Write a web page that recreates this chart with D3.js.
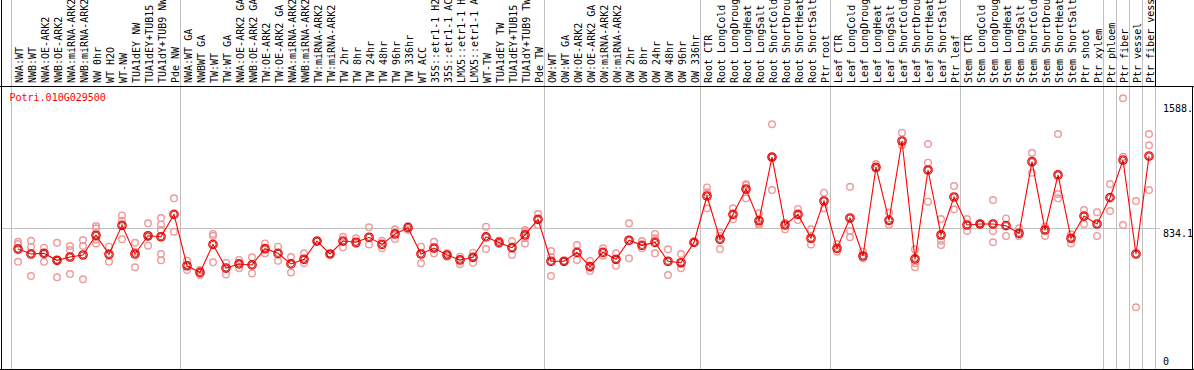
<!DOCTYPE html>
<html>
<head>
<meta charset="utf-8">
<script src="https://cdn.jsdelivr.net/npm/d3@7"></script>
<style>
  body { margin: 0; background: #fff; }
  svg { display: block; }
  text { font-family: "DejaVu Sans Mono", monospace; font-size: 10px; }
</style>
</head>
<body>
<svg id="chart" width="1194" height="370"></svg>
<script>
var geneName = "Potri.010G029500";

var sampleLabels = [
  "NWA:WT", "NWB:WT", "NWA:OE-ARK2", "NWB:OE-ARK2", "NWA:miRNA-ARK2", "NWB:miRNA-ARK2", "NW 0hr", "WT H2O", "WT-NW",
  "TUA1dEY NW", "TUA1dEY+TUB15", "TUA1dY+TUB9 NW", "Pde NW",
  "NWA:WT GA", "NWBWT GA", "TW:WT", "TW:WT GA", "NWA:OE-ARK2 GA", "NWB:OE-ARK2 GA", "TW:OE-ARK2", "TW:OE-ARK2 GA",
  "NWA:miRNA-ARK2", "NWB:miRNA-ARK2", "TW:miRNA-ARK2", "TW:miRNA-ARK2", "TW 2hr", "TW 8hr", "TW 24hr", "TW 48hr",
  "TW 96hr", "TW 336hr", "WT ACC", "35S::etr1-1 H2", "35S::etr1-1 AC", "LMX5::etr1-1 H", "LMX5::etr1-1 A", "WT-TW",
  "TUA1dEY TW", "TUA1dEY+TUB15", "TUA1dY+TUB9 TW", "Pde TW",
  "OW:WT", "OW:WT GA", "OW:OE-ARK2", "OW:OE-ARK2 GA", "OW:miRNA-ARK2", "OW:miRNA-ARK2", "OW 2hr", "OW 8hr",
  "OW 24hr", "OW 48hr", "OW 96hr", "OW 336hr",
  "Root CTR", "Root LongCold", "Root LongDroug", "Root LongHeat", "Root LongSalt", "Root ShortCold", "Root ShortDrou",
  "Root ShortHeat", "Root ShortSalt", "Ptr root",
  "Leaf CTR", "Leaf LongCold", "Leaf LongDroug", "Leaf LongHeat", "Leaf LongSalt", "Leaf ShortCold", "Leaf ShortDrou",
  "Leaf ShortHeat", "Leaf ShortSalt", "Ptr leaf",
  "Stem CTR", "Stem LongCold", "Stem LongDroug", "Stem LongHeat", "Stem LongSalt", "Stem ShortCold", "Stem ShortDrou",
  "Stem ShortHeat", "Stem ShortSalt", "Ptr shoot", "Ptr xylem",
  "Ptr phloem", "Ptr fiber", "Ptr vessel", "Ptr fiber vess"
];

// how many samples in each block between grey separators
var groupSizes = [13, 28, 12, 10, 10, 11, 1, 1, 1, 1];

var meanValues = [
  706, 676, 680, 638, 658, 670, 789, 674, 849, 676, 786, 780, 915,
  605, 565, 734, 591, 616, 610, 708, 680, 616, 644, 754, 676, 754, 747, 777, 734, 797,
  835, 676, 712, 670, 640, 656, 779, 746, 714, 791, 885,
  632, 632, 686, 600, 686, 644, 759, 728, 746, 632, 623, 746,
  1026, 765, 915, 1068, 877, 1261, 851, 915, 771, 996,
  710, 893, 664, 1199, 879, 1358, 646, 1183, 791, 1020,
  851, 857, 857, 847, 801, 1233, 821, 1153, 771, 905, 857,
  1016, 1243, 676, 1267
];

var replicateValues = [
  [750, 736, 629], [756, 720, 543], [714, 680, 629], [744, 638, 535], [724, 700, 555], [760, 724, 523],
  [845, 831, 764, 740], [720, 629], [909, 877, 765], [744, 596, 688], [861, 780, 726],
  [893, 853, 821, 676, 638], [1012, 811],
  [635, 579], [579, 549], [797, 786, 626], [623, 553], [640, 590], [656, 559], [740, 680], [720, 635],
  [658, 565], [680, 620], [754], [676], [780, 716], [771, 736], [837, 734], [756, 710], [825, 766],
  [845, 821], [720, 620], [750, 680], [680, 660], [660, 614], [684, 623], [841, 706], [756, 736],
  [754, 672], [821, 810, 771, 740], [917, 851],
  [694, 660, 543], [632], [730, 640], [634, 573], [710, 666], [680, 605], [861, 650], [754, 710],
  [797, 771, 680], [704, 549], [676, 590], [746],
  [1078, 1048, 952], [804, 785, 706], [952, 885], [1097, 1092, 1012], [922, 858, 851], [1459, 1262, 1062],
  [865, 825], [948, 881], [825, 734], [1046, 952],
  [736, 690], [1082, 815, 777], [690, 650], [1219, 1193], [926, 853], [1408, 1334], [704, 620, 596],
  [1340, 1227, 992], [887, 756, 730], [1086, 946],
  [887, 815], [860, 854], [1002, 815, 747], [891, 785], [831, 785], [1287, 1167], [841, 785],
  [1400, 1038, 1012], [795, 740], [941, 857], [928, 785],
  [1098, 935], [1616, 1263, 851], [996, 354], [1400, 1332, 1062]
];

var tickValues = [0, 834.1, 1588];
var tickLabels = ["0", "834.1", "1588."];
var refLineValue = 834.1;

var svg = d3.select("#chart");
var plotTop = 86, plotBottom = 369, plotLeft = 1, plotRight = 1192;

var x = d3.scaleBand()
  .domain(d3.range(sampleLabels.length))
  .range([11.5, 11.5 + 13 * sampleLabels.length]);
var y = d3.scaleLinear().domain([0, 1690]).range([366, plotTop]);
var cx = function(i) { return x(i) + x.bandwidth() / 2; };

// group separators
var bounds = [0];
groupSizes.forEach(function(s) { bounds.push(bounds[bounds.length - 1] + s); });
svg.append("g").selectAll("line").data(bounds).enter().append("line")
  .attr("x1", function(b) { return b < sampleLabels.length ? x(b) : x.range()[1]; })
  .attr("x2", function(b) { return b < sampleLabels.length ? x(b) : x.range()[1]; })
  .attr("y1", 0).attr("y2", plotBottom)
  .attr("stroke", "#c0c0c0").attr("shape-rendering", "crispEdges");

// reference line
svg.append("line")
  .attr("x1", plotLeft).attr("x2", 1160)
  .attr("y1", Math.round(y(refLineValue)) + 0.5).attr("y2", Math.round(y(refLineValue)) + 0.5)
  .attr("stroke", "#c0c0c0").attr("shape-rendering", "crispEdges");

// frame
var frame = svg.append("g").attr("stroke", "#000").attr("shape-rendering", "crispEdges");
frame.append("line").attr("x1", 0).attr("x2", 1194).attr("y1", plotTop + 0.5).attr("y2", plotTop + 0.5);
frame.append("line").attr("x1", 0).attr("x2", 1194).attr("y1", plotBottom + 0.5).attr("y2", plotBottom + 0.5);
frame.append("line").attr("x1", plotLeft + 0.5).attr("x2", plotLeft + 0.5).attr("y1", 0).attr("y2", plotBottom);
frame.append("line").attr("x1", x.range()[1]).attr("x2", x.range()[1]).attr("y1", 0).attr("y2", plotTop);
frame.append("line").attr("x1", plotRight + 0.5).attr("x2", plotRight + 0.5).attr("y1", plotTop).attr("y2", plotBottom);

// sample labels
svg.append("g").selectAll("text").data(sampleLabels).enter().append("text")
  .attr("transform", function(d, i) { return "translate(" + (cx(i) + 5) + ",83) rotate(-90)"; })
  .attr("fill", "#000")
  .text(function(d) { return d; });

// y tick labels
svg.append("g").selectAll("text").data(tickValues).enter().append("text")
  .attr("x", 1163)
  .attr("y", function(v) { return Math.min(y(v) + 9, 365); })
  .attr("fill", "#000")
  .text(function(v, i) { return tickLabels[i]; });

svg.append("text").attr("x", 9.5).attr("y", 101).attr("fill", "#f00").text(geneName);

// replicates
var reps = [];
replicateValues.forEach(function(arr, i) { arr.forEach(function(v) { reps.push({ i: i, v: v }); }); });
svg.append("g").selectAll("circle").data(reps).enter().append("circle")
  .attr("cx", function(d) { return cx(d.i); })
  .attr("cy", function(d) { return y(d.v); })
  .attr("r", 3.3)
  .attr("fill", "none").attr("stroke", "#ee9a9a").attr("stroke-width", 1.4);

// mean line
var line = d3.line().x(function(d, i) { return cx(i); }).y(function(d) { return y(d); });
svg.append("path").datum(meanValues)
  .attr("d", line).attr("fill", "none").attr("stroke", "#f00").attr("stroke-width", 1.1);

var meanG = svg.append("g").selectAll("g").data(meanValues).enter().append("g")
  .attr("transform", function(d, i) { return "translate(" + cx(i) + "," + y(d) + ")"; });
meanG.append("circle").attr("r", 4.2)
  .attr("fill", "none").attr("stroke", "#f00").attr("stroke-width", 1.3);
meanG.append("circle").attr("r", 3.1)
  .attr("fill", "none").attr("stroke", "#900000").attr("stroke-width", 0.8);
</script>
</body>
</html>
